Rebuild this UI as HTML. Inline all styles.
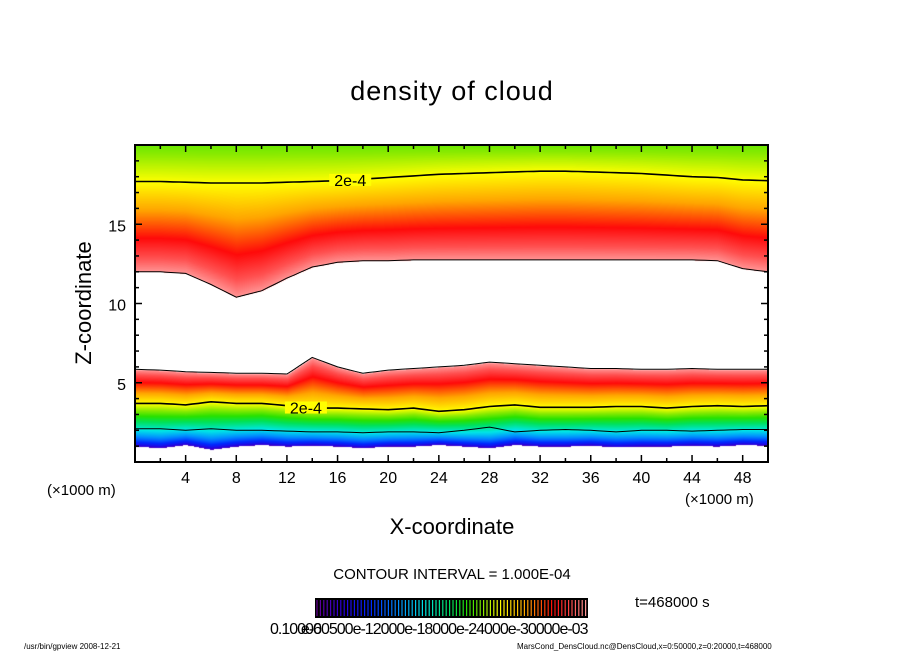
<!DOCTYPE html>
<html><head><meta charset="utf-8"><style>
body{margin:0;background:#fff;width:904px;height:654px;overflow:hidden;position:relative;font-family:"Liberation Sans","DejaVu Sans",sans-serif}
.t{position:absolute;white-space:nowrap;color:#000}
</style></head><body>
<div class="t" style="left:0;width:904px;text-align:center;top:76px;font-size:27px;letter-spacing:1px">density of cloud</div>
<svg id="plot" width="904" height="654" style="position:absolute;left:0;top:0"></svg>
<canvas id="cv" width="633" height="317" style="position:absolute;left:135px;top:145px"></canvas>
<svg id="ov" width="904" height="654" style="position:absolute;left:0;top:0"></svg>
<div class="t" style="left:47px;top:482px;font-size:15px">(×1000 m)</div>
<div class="t" style="left:685px;top:491px;font-size:15px">(×1000 m)</div>
<div class="t" style="left:0;width:904px;text-align:center;top:514px;font-size:22px">X-coordinate</div>
<div class="t" style="left:84px;top:303px;font-size:22px;transform:translate(-50%,-50%) rotate(-90deg)">Z-coordinate</div>
<div class="t" style="left:0;width:904px;text-align:center;top:566px;font-size:15px">CONTOUR INTERVAL = 1.000E-04</div>
<div class="t" style="left:635px;top:594px;font-size:15px">t=468000 s</div>
<div class="t" style="left:270px;top:621px;font-size:16px;letter-spacing:-1px">0.10000<span style="margin-left:-20px">e-60500e-12000e-18000e-24000e-30000e-03</span></div>
<div class="t" style="left:24px;top:642px;font-size:8px">/usr/bin/gpview  2008-12-21</div>
<div class="t" style="left:517px;top:642px;font-size:8px">MarsCond_DensCloud.nc@DensCloud,x=0:50000,z=0:20000,t=468000</div>
<script>
const xs=[0,2,4,6,8,10,12,14,16,18,20,22,24,26,28,30,32,34,36,38,40,42,44,46,48,50];
const upperEdge=[12.0,12.0,11.9,11.2,10.4,10.8,11.6,12.3,12.6,12.7,12.7,12.75,12.75,12.75,12.75,12.75,12.75,12.75,12.75,12.75,12.75,12.75,12.75,12.7,12.2,12.0];
const upperContour=[17.7,17.7,17.65,17.6,17.6,17.6,17.65,17.7,17.75,17.85,17.95,18.05,18.15,18.2,18.25,18.3,18.35,18.35,18.3,18.25,18.2,18.1,18.0,17.95,17.8,17.75];
const lowerTop=[5.85,5.8,5.7,5.65,5.6,5.6,5.55,6.6,6.0,5.6,5.8,5.9,6.0,6.1,6.3,6.2,6.1,6.0,5.9,5.9,5.85,5.85,5.9,5.85,5.85,5.85];
const lowerContour=[3.7,3.7,3.6,3.8,3.7,3.7,3.55,3.4,3.4,3.35,3.3,3.4,3.2,3.3,3.5,3.6,3.45,3.45,3.45,3.5,3.5,3.4,3.5,3.55,3.5,3.55];
const lowerContour2=[2.1,2.1,2.0,2.1,2.0,2.0,1.95,1.9,1.9,1.85,1.9,1.9,1.85,2.0,2.2,1.9,2.0,2.05,2.0,1.9,2.0,2.0,1.95,2.0,2.05,2.05];
const lowerBottom=[1.0,0.9,1.1,0.8,1.0,1.1,1.0,1.05,1.0,0.9,1.0,1.0,1.1,1.0,0.9,1.1,1.0,1.0,1.05,0.95,1.0,1.0,1.05,1.0,1.1,1.05];
const xTicks=[4,8,12,16,20,24,28,32,36,40,44,48];
const yTicks=[5,10,15];
const L=135,R=768,T=145,B=462,XMAX=50,ZMAX=20;
const sx=x=>L+(x/XMAX)*(R-L), sy=z=>B-(z/ZMAX)*(B-T);
function interp(arr,x){const i=Math.min(xs.length-2,Math.floor(x/2));const f=(x-xs[i])/(xs[i+1]-xs[i]);return arr[i]*(1-f)+arr[i+1]*f;}
const stops=[[0,[100,0,150]],[0.1,[40,0,220]],[0.2,[0,40,255]],[0.3,[0,140,255]],[0.4,[0,230,230]],[0.5,[0,225,90]],[0.56,[40,225,0]],[0.62,[140,235,0]],[0.68,[255,255,0]],[0.78,[255,165,0]],[0.88,[255,10,10]],[0.95,[255,80,80]],[1,[255,150,150]]];
function cmap(t){t=Math.max(0,Math.min(1,t));for(let i=0;i<stops.length-1;i++){if(t<=stops[i+1][0]){const f=(t-stops[i][0])/(stops[i+1][0]-stops[i][0]);return stops[i][1].map((c,k)=>Math.round(c+(stops[i+1][1][k]-c)*f));}}return stops[stops.length-1][1];}
const cv=document.getElementById('cv'),ctx=cv.getContext('2d');
const W=cv.width,H=cv.height,img=ctx.createImageData(W,H);
for(let px=0;px<W;px++){const x=px/W*XMAX;
 const ue=interp(upperEdge,x),uc=interp(upperContour,x),lt=interp(lowerTop,x),lc=interp(lowerContour,x),lb=interp(lowerBottom,x);
 for(let py=0;py<H;py++){const z=ZMAX*(1-py/H);let t=null;
  if(z>=ue){ if(z<uc) t=1-0.32*(z-ue)/(uc-ue); else t=0.68-0.08*(z-uc)/(ZMAX-uc); }
  else if(z<=lt&&z>=lb){ if(z>=lc) t=0.68+0.32*(z-lc)/(lt-lc); else t=0.03+0.65*Math.pow((z-lb)/(lc-lb),0.6); }
  const o=(py*W+px)*4;let c=t===null?[255,255,255]:cmap(t);
  img.data[o]=c[0];img.data[o+1]=c[1];img.data[o+2]=c[2];img.data[o+3]=255;}}
ctx.putImageData(img,0,0);
const NS='http://www.w3.org/2000/svg',ov=document.getElementById('ov');
function mk(tag,at){const e=document.createElementNS(NS,tag);for(const k in at)e.setAttribute(k,at[k]);ov.appendChild(e);return e;}
function line(arr,w,name){let d='';for(let x=0;x<=XMAX;x+=0.5)d+=(x?'L':'M')+sx(x).toFixed(1)+' '+sy(interp(arr,x)).toFixed(1);const p=mk('path',{d:d,fill:'none',stroke:'#000','stroke-width':w});

}
line(upperContour,1.6,'upper-contour-2e-4');
line(lowerContour,1.6,'lower-contour-2e-4');
line(lowerContour2,1,'lower-contour-1e-4');
line(upperEdge,1,'upper-cloud-edge');
line(lowerTop,1,'lower-cloud-edge');
function lab(x,arr,name){const X=sx(x),Y=sy(interp(arr,x));
const bg=mk('rect',{x:X-21,y:Y-6,width:42,height:12});bg.setAttribute('fill',`rgb(${cmap(0.68).join(',')})`);
const t=mk('text',{x:X,y:Y+6,'text-anchor':'middle','font-size':'16','font-family':'Liberation Sans, sans-serif'});t.textContent='2e-4';

}
lab(17,upperContour,'upper-contour-label');lab(13.5,lowerContour,'lower-contour-label');
const fr=mk('rect',{x:L,y:T,width:R-L,height:B-T,fill:'none',stroke:'#000','stroke-width':2});


for(let x=2;x<XMAX;x+=2){const m=x%4===0?7:4;mk('line',{x1:sx(x),x2:sx(x),y1:B,y2:B-m,stroke:'#000','stroke-width':1.5});mk('line',{x1:sx(x),x2:sx(x),y1:T,y2:T+m,stroke:'#000','stroke-width':1.5});}
for(let z=1;z<ZMAX;z++){const m=z%5===0?7:4;mk('line',{x1:L,x2:L+m,y1:sy(z),y2:sy(z),stroke:'#000','stroke-width':1.5});mk('line',{x1:R,x2:R-m,y1:sy(z),y2:sy(z),stroke:'#000','stroke-width':1.5});}
xTicks.forEach(v=>{const t=mk('text',{x:sx(v),y:483,'text-anchor':'middle','font-size':'16','font-family':'Liberation Sans, sans-serif'});t.textContent=v;

});
yTicks.forEach(v=>{const t=mk('text',{x:126,y:sy(v)+7,'text-anchor':'end','font-size':'16','font-family':'Liberation Sans, sans-serif'});t.textContent=v;

});
const cb=mk('rect',{x:315,y:598,width:273,height:20,fill:'#000'});


for(let i=0;i<80;i++){const t=i/79;mk('line',{x1:317+i*3.4,x2:317+i*3.4,y1:600,y2:616,stroke:`rgb(${cmap(t).join(',')})`,'stroke-width':1.2});}
</script>
</body></html>
